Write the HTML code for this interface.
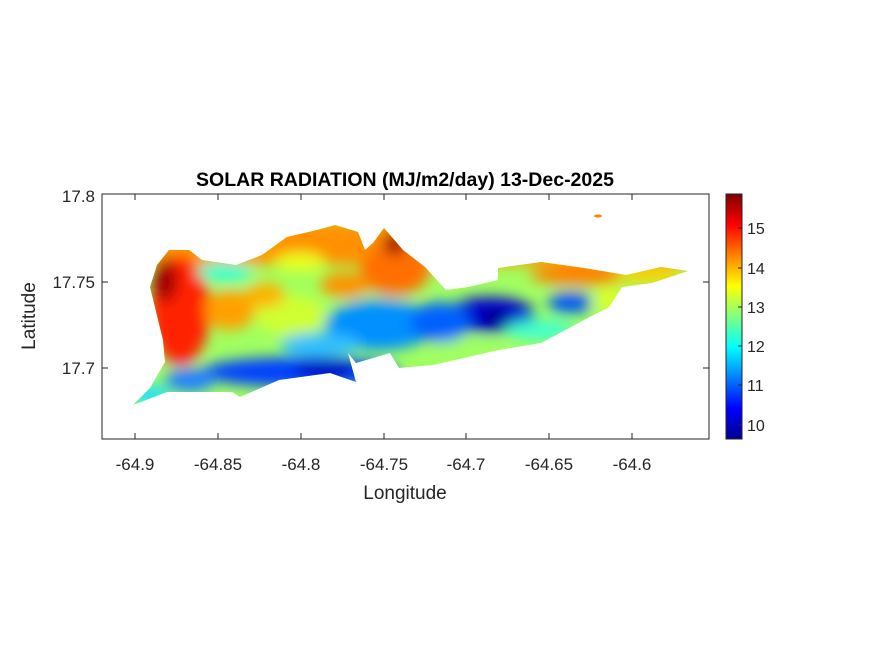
<!DOCTYPE html>
<html><head><meta charset="utf-8"><style>
html,body{margin:0;padding:0;background:#fff;}
svg{display:block;font-family:"Liberation Sans",Arial,sans-serif;}
</style></head><body>
<svg width="875" height="656" viewBox="0 0 875 656" xmlns="http://www.w3.org/2000/svg">
<defs>
<linearGradient id="jet" x1="0" y1="1" x2="0" y2="0">
<stop offset="0" stop-color="#00008f"/>
<stop offset="0.125" stop-color="#0000ff"/>
<stop offset="0.375" stop-color="#00ffff"/>
<stop offset="0.5" stop-color="#80ff80"/>
<stop offset="0.625" stop-color="#ffff00"/>
<stop offset="0.875" stop-color="#ff0000"/>
<stop offset="1" stop-color="#800000"/>
</linearGradient>
<clipPath id="isl"><polygon points="133,405 150,388 165,362 163,340 150,287 157,265 169,250 189,250 202,260 236,265 262,255 287,237 317,230 335,225 358,232 365,250 373,243 384,228 403,250 425,267 446,290 468,287 498,280 498,268 541,262 584,268 626,275 661,267 688,271 652,283 622,287 609,307 584,320 541,343 498,350 468,357 433,365 399,368 390,353 356,363 348,353 356,382 330,373 279,380 240,397 232,392 167,392"/></clipPath>
<filter id="bl" x="-50%" y="-50%" width="200%" height="200%"><feGaussianBlur stdDeviation="7"/></filter>
</defs>
<rect x="102" y="194" width="607" height="245" fill="#fff" stroke="#262626" stroke-width="1"/>
<g clip-path="url(#isl)">
<rect x="120" y="220" width="580" height="190" fill="#a0ff60"/>
<g filter="url(#bl)">
<rect x="120" y="220" width="580" height="45" fill="#ff9a00"/>
<ellipse cx="330" cy="245" rx="60" ry="18" fill="#ff9000"/>
<ellipse cx="300" cy="262" rx="25" ry="10" fill="#e8ff20"/>
<ellipse cx="395" cy="270" rx="35" ry="25" fill="#ff7000"/>
<ellipse cx="345" cy="285" rx="25" ry="12" fill="#ff9000"/>
<ellipse cx="395" cy="243" rx="12" ry="12" fill="#a00000"/>
<ellipse cx="180" cy="310" rx="30" ry="55" fill="#ff2000"/>
<ellipse cx="165" cy="280" rx="12" ry="22" fill="#a00000"/>
<ellipse cx="230" cy="310" rx="25" ry="20" fill="#ffa000"/>
<ellipse cx="225" cy="272" rx="28" ry="10" fill="#30ffd0"/>
<ellipse cx="290" cy="315" rx="35" ry="20" fill="#d0ff30"/>
<ellipse cx="265" cy="295" rx="20" ry="12" fill="#ffb000"/>
<ellipse cx="380" cy="325" rx="55" ry="25" fill="#0090ff"/>
<ellipse cx="320" cy="345" rx="40" ry="12" fill="#30c0ff"/>
<ellipse cx="300" cy="372" rx="100" ry="15" fill="#0040ff"/>
<ellipse cx="325" cy="368" rx="30" ry="10" fill="#0000c0"/>
<ellipse cx="190" cy="380" rx="25" ry="12" fill="#2080ff"/>
<ellipse cx="150" cy="395" rx="20" ry="10" fill="#20e0ff"/>
<ellipse cx="490" cy="315" rx="45" ry="18" fill="#0000d0"/>
<ellipse cx="495" cy="318" rx="15" ry="8" fill="#000080"/>
<ellipse cx="440" cy="322" rx="30" ry="20" fill="#0060ff"/>
<ellipse cx="570" cy="303" rx="22" ry="10" fill="#0050ff"/>
<ellipse cx="540" cy="330" rx="35" ry="10" fill="#40ffd0"/>
<ellipse cx="580" cy="275" rx="50" ry="10" fill="#ff8000"/>
<ellipse cx="650" cy="275" rx="35" ry="8" fill="#ffd000"/>
<ellipse cx="610" cy="300" rx="15" ry="12" fill="#e0ff20"/>
<ellipse cx="470" cy="348" rx="40" ry="8" fill="#a0ff60"/>
</g>
</g>
<ellipse cx="598" cy="216" rx="4" ry="1.5" fill="#ff8000"/>
<g stroke="#262626" stroke-width="1">
<line x1="135" y1="439" x2="135" y2="433"/><line x1="218" y1="439" x2="218" y2="433"/><line x1="301" y1="439" x2="301" y2="433"/><line x1="384" y1="439" x2="384" y2="433"/><line x1="466" y1="439" x2="466" y2="433"/><line x1="549" y1="439" x2="549" y2="433"/><line x1="632" y1="439" x2="632" y2="433"/>
<line x1="135" y1="194" x2="135" y2="200"/><line x1="218" y1="194" x2="218" y2="200"/><line x1="301" y1="194" x2="301" y2="200"/><line x1="384" y1="194" x2="384" y2="200"/><line x1="466" y1="194" x2="466" y2="200"/><line x1="549" y1="194" x2="549" y2="200"/><line x1="632" y1="194" x2="632" y2="200"/>
<line x1="102" y1="282" x2="108" y2="282"/><line x1="102" y1="368" x2="108" y2="368"/>
<line x1="709" y1="282" x2="703" y2="282"/><line x1="709" y1="368" x2="703" y2="368"/>
</g>
<g font-size="17" fill="#262626" text-anchor="middle">
<text x="135" y="470">-64.9</text><text x="218" y="470">-64.85</text><text x="301" y="470">-64.8</text><text x="384" y="470">-64.75</text><text x="466" y="470">-64.7</text><text x="549" y="470">-64.65</text><text x="632" y="470">-64.6</text>
</g>
<g font-size="17" fill="#262626" text-anchor="end">
<text x="95" y="202">17.8</text><text x="95" y="288">17.75</text><text x="95" y="374">17.7</text>
</g>
<text x="405" y="499" font-size="19" fill="#262626" text-anchor="middle">Longitude</text>
<text transform="translate(35,316) rotate(-90)" font-size="19" fill="#262626" text-anchor="middle">Latitude</text>
<text x="405" y="186" font-size="19.5" font-weight="bold" fill="#000" text-anchor="middle">SOLAR RADIATION (MJ/m2/day) 13-Dec-2025</text>
<rect x="726" y="194" width="16" height="245" fill="url(#jet)" stroke="#262626" stroke-width="1"/>
<g stroke="#262626"><line x1="738" y1="228" x2="742" y2="228"/><line x1="738" y1="268" x2="742" y2="268"/><line x1="738" y1="307" x2="742" y2="307"/><line x1="738" y1="346" x2="742" y2="346"/><line x1="738" y1="385" x2="742" y2="385"/><line x1="738" y1="425" x2="742" y2="425"/></g>
<g font-size="16" fill="#262626">
<text x="747" y="234">15</text><text x="747" y="274">14</text><text x="747" y="313">13</text><text x="747" y="352">12</text><text x="747" y="391">11</text><text x="747" y="431">10</text>
</g>
</svg>
</body></html>
